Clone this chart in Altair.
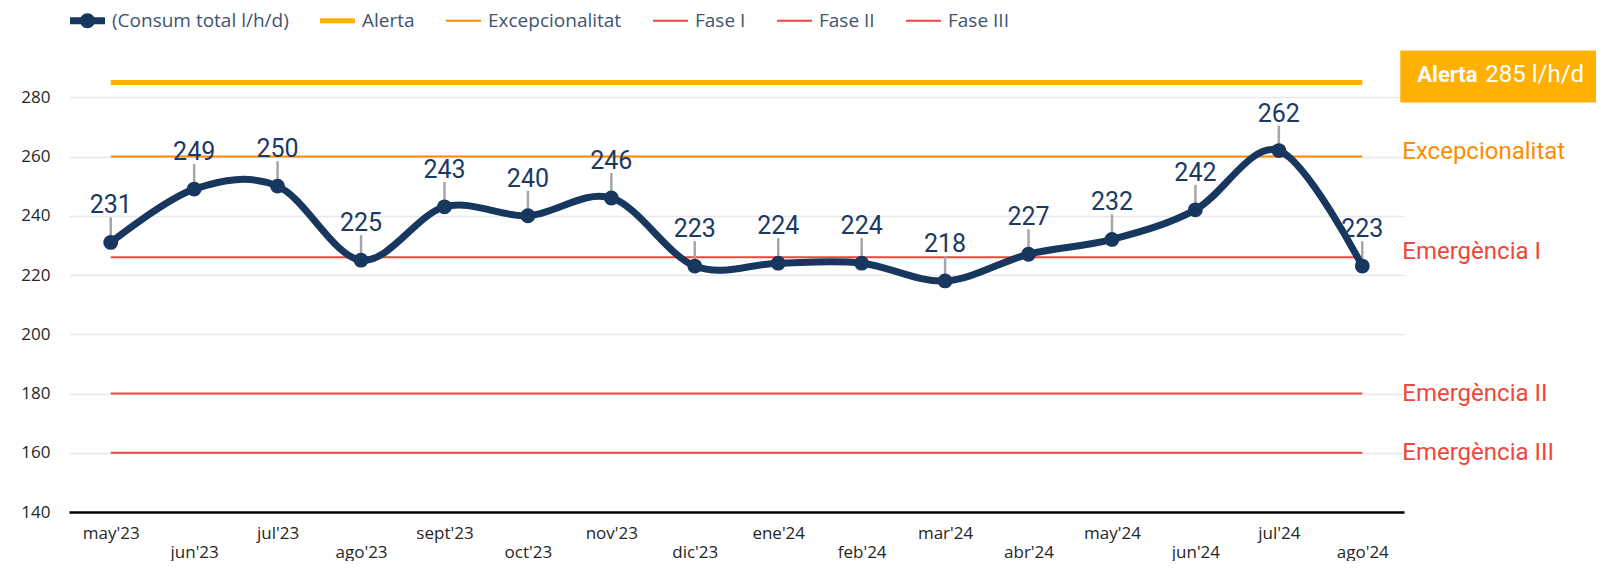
import json
import altair as alt
import pandas as pd

months = ["may'23", "jun'23", "jul'23", "ago'23", "sept'23", "oct'23", "nov'23", "dic'23",
          "ene'24", "feb'24", "mar'24", "abr'24", "may'24", "jun'24", "jul'24", "ago'24"]
consum = [231, 249, 250, 225, 243, 240, 246, 223, 224, 224, 218, 227, 232, 242, 262, 223]
series_name = "(Consum total l/h/d)"
thr_names = ["Alerta", "Excepcionalitat", "Fase I", "Fase II", "Fase III"]
thr_values = [285, 260, 226, 180, 160]
thr_labels = ["", "Excepcionalitat", "Emergència I", "Emergència II", "Emergència III"]
y_ticks = [140, 160, 180, 200, 220, 240, 260, 280]

NAVY = "#17375E"
ALERTA = "#FFB000"
ORANGE = "#FF8C00"
RED = "#F0463C"

df = pd.DataFrame({"month": months, "value": consum, "series": series_name})
thr = pd.DataFrame({"series": thr_names, "value": thr_values, "label": thr_labels,
                    "start": months[0], "end": months[-1]})

color_scale = alt.Scale(domain=[series_name] + thr_names,
                        range=[NAVY, ALERTA, ORANGE, RED, RED, RED])

P_NAVY = "M-1,-0.2H1V0.2H-1Z M0.43,0A0.43,0.43,0,1,1,-0.43,0A0.43,0.43,0,1,1,0.43,0Z"
P_ALERTA = "M-1,-0.14H1V0.14H-1Z"
P_THIN = "M-1,-0.057H1V0.057H-1Z"
shape_expr = (f"datum.value === {json.dumps(series_name)} ? '{P_NAVY}' : "
              f"datum.value === 'Alerta' ? '{P_ALERTA}' : '{P_THIN}'")

legend = alt.Legend(
    title=None, orient="none", legendX=1, legendY=-35, direction="horizontal",
    columns=6, columnPadding=31, padding=0, symbolSize=1225, labelOffset=7,
    labelFont="Open Sans", labelFontSize=19, labelColor="#40546F", labelLimit=400,
    symbolType={"expr": shape_expr},
    symbolFillColor={"expr": "scale('color', datum.value)"},
    symbolStrokeWidth=0, symbolOpacity=1,
)
color = alt.Color("series:N", scale=color_scale, legend=legend)

label_expr = (f"indexof({json.dumps(months)}, datum.value) % 2 == 1 ? ['', datum.label] : datum.label")
x_scale = alt.Scale(domain=months, type="point", padding=0.5)
x = alt.X("month:O", scale=x_scale, axis=alt.Axis(
    title=None, labelExpr=label_expr, ticks=False, grid=False, domainColor="#000000",
    domainWidth=2.5, labelPadding=13, labelFont="Open Sans", labelFontSize=17,
    labelColor="#262626", labelLineHeight=19, labelAngle=0, labelBaseline="top",
    labelAlign="center"))
y_scale = alt.Scale(domain=[140, 300], nice=False, zero=False)
y = alt.Y("value:Q", scale=y_scale, axis=alt.Axis(
    values=y_ticks, title=None, domain=False, ticks=False, gridColor="#E8E8E8",
    gridWidth=1.5, labelPadding=19, labelFont="Open Sans", labelFontSize=17,
    labelColor="#262626"))

base_thr = alt.Chart(thr)
alerta_rule = base_thr.transform_filter("datum.series == 'Alerta'").mark_rule(strokeWidth=5).encode(
    x=alt.X("start:O", scale=x_scale), x2="end:O", y=y, color=color)
other_rules = base_thr.transform_filter("datum.series != 'Alerta'").mark_rule(strokeWidth=2).encode(
    x=alt.X("start:O", scale=x_scale), x2="end:O", y=y, color=color)

right_upper = base_thr.transform_filter("datum.value > 200").mark_text(
    align="left", baseline="middle", dx=40, dy=-5, font="Roboto", fontSize=24).encode(
    x=alt.X("end:O", scale=x_scale), y=y, text="label:N", color=color)
right_lower = base_thr.transform_filter("datum.value < 200").mark_text(
    align="left", baseline="middle", dx=40, dy=0, font="Roboto", fontSize=24).encode(
    x=alt.X("end:O", scale=x_scale), y=y, text="label:N", color=color)

alerta_box = base_thr.transform_filter("datum.series == 'Alerta'").mark_rect(
    color=ALERTA, xOffset=38, x2Offset=235, yOffset=-32, y2Offset=20).encode(
    x=alt.X("end:O", scale=x_scale), x2="end:O", y=y, y2="value:Q")
alerta_t1 = base_thr.transform_filter("datum.series == 'Alerta'").mark_text(
    align="left", baseline="middle", dx=55, dy=-7, font="Roboto", fontSize=22,
    fontWeight="bold", color="#FFFFFF").encode(
    x=alt.X("end:O", scale=x_scale), y=y, text="series:N")
alerta_t2 = base_thr.transform_filter("datum.series == 'Alerta'").transform_calculate(
    txt="datum.value + ' l/h/d'").mark_text(
    align="left", baseline="middle", dx=123, dy=-7, font="Roboto", fontSize=24,
    color="#FFFFFF").encode(
    x=alt.X("end:O", scale=x_scale), y=y, text="txt:N")

base = alt.Chart(df)
leaders = base.mark_rule(color="#A6A6A6", strokeWidth=2.5, y2Offset=-25).encode(
    x=x, y=y, y2="value:Q")
line = base.mark_line(interpolate="cardinal", tension=0, strokeWidth=7).encode(
    x=x, y=y, color=color)
points = base.mark_circle(size=220, opacity=1).encode(x=x, y=y, color=color)
labels = base.mark_text(dy=-37, baseline="middle", font="Roboto", fontSize=25,
                        color="#1B3A63").encode(x=x, y=y, text="value:Q")

chart = alt.layer(
    other_rules, alerta_rule, leaders, line, points, labels, right_upper, right_lower,
    alerta_box, alerta_t1, alerta_t2
).properties(
    width=1335, height=474,
    autosize=alt.AutoSizeParams(type="none"),
    padding={"left": 61, "top": 30, "right": 192, "bottom": 49},
    background="#FFFFFF",
).configure_view(stroke=None)

chart.save("out.html", embed_options={"renderer": "svg", "actions": False})
